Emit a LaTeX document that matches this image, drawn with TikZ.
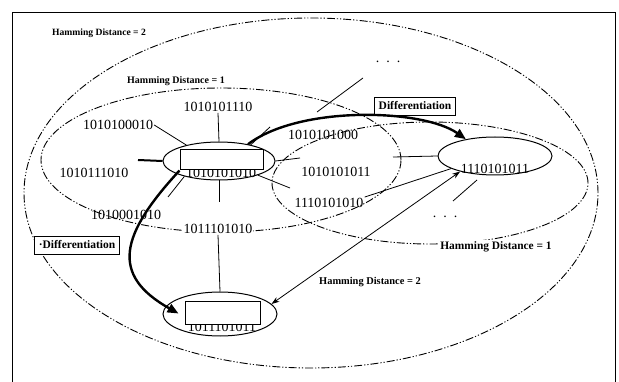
\documentclass[tikz,border=0pt]{standalone}
\usepackage{fontspec}
\setmainfont{Liberation Serif}
\usetikzlibrary{shapes.geometric,arrows.meta,calc}
\begin{document}
\begin{tikzpicture}[x=1pt,y=-1pt,
  hd/.style={line width=0.9pt, dash pattern=on 8pt off 2pt on 1.2pt off 2pt on 1.2pt off 2pt},
  nodeell/.style={ellipse, draw, line width=1pt, inner sep=0pt},
  bits/.style={font=\fontsize{14}{14}\selectfont, inner sep=1pt},
  hdlab/.style={font=\fontsize{10}{10}\selectfont\bfseries, inner sep=1.5pt, fill=white},
  difbox/.style={draw, line width=0.7pt, font=\fontsize{11.5}{12}\selectfont\bfseries, inner xsep=4pt, minimum height=18pt, fill=white},
  rectbox/.style={draw, fill=white, line width=1pt, inner sep=0pt},
  spoke/.style={line width=0.8pt},
  bigarrow/.style={line width=2.4pt, -{Triangle[length=11pt,width=9pt]}},
  thinarrow/.style={line width=0.8pt, {Stealth[length=8pt,width=5.5pt]}-{Stealth[length=8pt,width=5.5pt]}},
]
\fill[white] (0,0) rectangle (619,382);
\useasboundingbox (0,0) rectangle (619,382);
% frame
\draw[line width=0.8pt] (12,382) -- (12,12) -- (615,12) -- (615,382);

% Hamming distance regions
\draw[hd] (311,193) ellipse [x radius=287pt, y radius=175pt];
\draw[hd] (221,160) ellipse [x radius=180pt, y radius=72pt];
\draw[hd] (430,183) ellipse [x radius=158pt, y radius=61pt];

% region labels
\node[hdlab, font=\fontsize{9.6}{10}\selectfont\bfseries] (hd2a) at (99,33) {Hamming Distance = 2};
\node[hdlab] (hd1a) at (176,81) {Hamming Distance = 1};
\node[hdlab, font=\fontsize{11.4}{12}\selectfont\bfseries] (hd1b) at (496,247) {Hamming Distance = 1};
\node[hdlab, font=\fontsize{10.4}{11}\selectfont\bfseries] (hd2b) at (370,282) {Hamming Distance = 2};

% neighbour strings
\node[bits] (l1) at (218,107) {1010101110};
\node[bits] (l2) at (118,125) {1010100010};
\node[bits] (l3) at (94,173) {1010111010};
\node[bits] (l4) at (126,215) {1010001010};
\node[bits, fill=white] (l5) at (218,229) {1011101010};
\node[bits] (l6) at (323,135) {1010101000};
\node[bits] (l7) at (336,172) {1010101011};
\node[bits] (l8) at (329,203) {1110101010};
\node[bits] (dt1) at (388,62) {.\hspace{7pt}.\hspace{7pt}.};
\node[bits] (dt2) at (445,217) {.\hspace{7pt}.\hspace{7pt}.};

% differentiation boxes
\node[difbox] (d1) at (415,106) {Differentiation};
\node[difbox] (d2) at (77,245) {·Differentiation};

% node A
\node[nodeell, minimum width=112pt, minimum height=38pt] (A) at (219,161) {};
\node[bits] (Atext) at (221,173) {1010101010};
\node[rectbox, minimum width=83pt, minimum height=20pt] (Arect) at (221.5,160) {};

% node B
\node[nodeell, minimum width=114pt, minimum height=44pt] (B) at (220,314) {};
\node[bits] (Btext) at (222,327) {1011101011};
\node[rectbox, minimum width=75pt, minimum height=23pt] (Brect) at (222.5,313.5) {};

% node C
\node[nodeell, minimum width=114pt, minimum height=38pt] (C) at (495,156) {};
\node[bits] (Ctext) at (495,169) {1110101011};

% free ends of spokes
\coordinate (sL) at (138,160);
\coordinate (sUR) at (270,127);
\coordinate (sR) at (300,158);
\coordinate (sLR) at (290,188);
\coordinate (sD) at (219,202);
\coordinate (sLL) at (168,197);
\coordinate (cW) at (393,157);
\coordinate (cs1) at (477,180);
\coordinate (cs2) at (453,201);
\coordinate (t1) at (317,112);
\coordinate (t2) at (363,78);

% spokes around A
\draw[line width=2pt] (A.west) -- (sL);
\draw[spoke] (A.north) -- (l1.south);
\draw[spoke] (A.154) -- (l2.east);
\draw[spoke] (A.27) -- (sUR);
\draw[spoke] (A.east) -- (sR);
\draw[spoke] (A.-20) -- (sLR);
\draw[spoke] (A.south) -- (sD);
\draw[spoke] (A.204) -- (sLL);
\draw[spoke] (l5.south) -- (B.north);
% spokes around C
\draw[spoke] (C.west) -- (cW);
\draw[spoke] (cs1) -- (cs2);
\draw[spoke] (t1) -- (t2);
\draw[spoke] (l8.north east) -- (C.196);

% arrows
\draw[bigarrow] (A.30) .. controls (300,105) and (423,109) .. (C.150);
\draw[bigarrow] (Arect.south west) .. controls (120,235) and (110,275) .. ($(Brect.west)+(-6,0)$);
\draw[thinarrow] (B.11) -- (C.204);
\end{tikzpicture}
\end{document}
